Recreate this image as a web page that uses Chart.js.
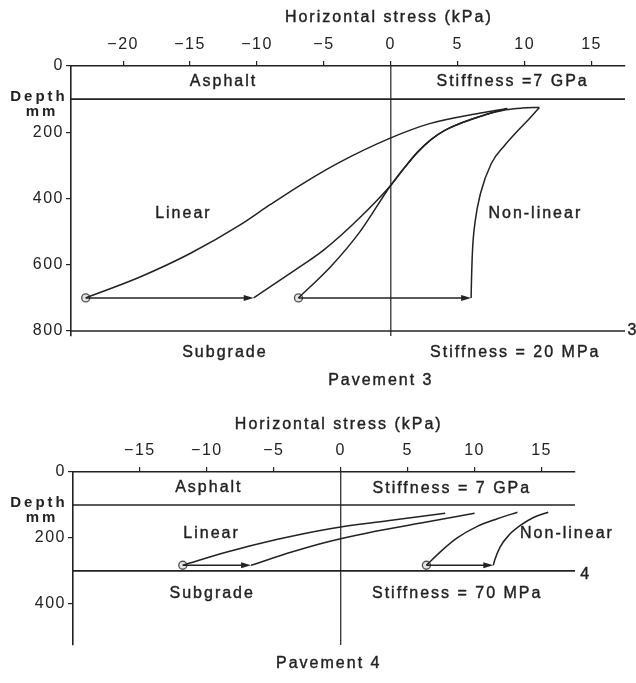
<!DOCTYPE html>
<html>
<head>
<meta charset="utf-8">
<script src="https://cdn.jsdelivr.net/npm/chart.js@4.4.0/dist/chart.umd.min.js"></script>
<style>
  body { margin:0; background:#fff; }
  #wrap { position:relative; width:636px; height:683px; }
  .box { position:absolute; left:0; width:636px; }
</style>
</head>
<body>
<div id="wrap">
  <div class="box" style="top:0;height:400px"><canvas id="c3"></canvas></div>
  <div class="box" style="top:400px;height:283px"><canvas id="c4"></canvas></div>
</div>
<script>
// ---- Pavement 3 (stress kPa / depth mm) ----
var p3LinA_x = [-22.8, -18.7, -15.0, -11.2, -9.0, -6.3, -3.8, 0, 2.9, 6.7, 8.7];
var p3LinA_d = [700, 636, 566, 478, 418, 348, 290, 217, 174, 142, 128];
var p3LinB_x = [-10.25, -7.5, -5.0, -2.5, 0, 1, 2, 3, 4, 5.4, 7, 8.7];
var p3LinB_d = [700, 625, 555, 465, 360, 308, 260, 222, 195, 170, 148, 128];
var p3NonA_x = [-6.9, -4.5, -2.3, 0, 1, 2, 3, 4, 5.4, 7, 8.6, 9.8, 11.1];
var p3NonA_d = [700, 606, 500, 360, 308, 260, 222, 195, 170, 148, 132, 127, 125];
var p3NonB_x = [6.0, 6.02, 6.1, 6.3, 6.7, 7.5, 8.5, 9.5, 10.4, 11.1];
var p3NonB_d = [700, 660, 560, 470, 385, 295, 240, 195, 157, 125];
var p3Circ_x = [-22.8, -6.9];
var p3Circ_d = [700, 700];
var p3ArrEnd_x = [-10.25, 6.0];
var p3Layers = [100, 800];
var p3XTicks = [-20, -15, -10, -5, 0, 5, 10, 15];
var p3YTicks = [0, 200, 400, 600, 800];

// ---- Pavement 4 ----
var p4LinA_x = [-11.8, -8.5, -4.8, -0.8, 3.5, 7.8];
var p4LinA_d = [283, 243, 205, 172, 148, 125];
var p4LinB_x = [-6.7, -3.6, -0.8, 2.0, 6.0, 10.0];
var p4LinB_d = [283, 242, 210, 185, 155, 125];
var p4NonA_x = [6.4, 7.5, 8.7, 10.2, 11.7, 13.2];
var p4NonA_d = [283, 240, 200, 165, 142, 122];
var p4NonB_x = [11.4, 11.5, 11.9, 12.6, 13.5, 14.4, 15.5];
var p4NonB_d = [283, 268, 228, 190, 160, 138, 122];
var p4Circ_x = [-11.8, 6.4];
var p4Circ_d = [283, 283];
var p4ArrEnd_x = [-6.7, 11.4];
var p4Layers = [100, 300];
var p4XTicks = [-15, -10, -5, 0, 5, 10, 15];
var p4YTicks = [0, 200, 400];

var INK = '#222';
var FONT = '"Liberation Sans", Arial, sans-serif';

function pts(xs, ds) {
  return xs.map(function (v, i) { return { x: v, y: ds[i] }; });
}

function curve(xs, ds) {
  return { data: pts(xs, ds), showLine: true, borderColor: INK, borderWidth: 1.5,
           pointRadius: 0, cubicInterpolationMode: 'monotone', fill: false };
}

function straight(xs, ds) {
  return { data: pts(xs, ds), showLine: true, borderColor: INK, borderWidth: 1.5,
           pointRadius: 0, tension: 0, fill: false };
}

var decor = {
  id: 'decor',
  beforeDraw: function (chart) { chart.ctx.letterSpacing = '1.5px'; },
  afterDatasetsDraw: function (chart, args, o) {
    var ctx = chart.ctx, a = chart.chartArea;
    var xs = chart.scales.x, ys = chart.scales.y;
    ctx.save();
    ctx.strokeStyle = INK;
    ctx.fillStyle = INK;
    // zero line
    ctx.lineWidth = 1.2;
    var zx = xs.getPixelForValue(0);
    ctx.beginPath(); ctx.moveTo(zx, a.top); ctx.lineTo(zx, a.bottom); ctx.stroke();
    // layer boundaries
    ctx.lineWidth = 1.6;
    o.layers.forEach(function (d) {
      var y = ys.getPixelForValue(d);
      ctx.beginPath(); ctx.moveTo(a.left, y); ctx.lineTo(a.right, y); ctx.stroke();
    });
    // arrow heads
    o.arrowEnds.forEach(function (v) {
      var x = xs.getPixelForValue(v), y = ys.getPixelForValue(o.arrowDepth);
      ctx.beginPath(); ctx.moveTo(x, y); ctx.lineTo(x - 10, y - 3); ctx.lineTo(x - 10, y + 3);
      ctx.closePath(); ctx.fill();
    });
    // texts
    ctx.letterSpacing = '2px';
    ctx.font = '16px ' + FONT;
    ctx.textAlign = 'center';
    ctx.textBaseline = 'middle';
    ctx.lineWidth = 0.4;
    function put(t, x, y) { ctx.fillText(t, x, y); ctx.strokeText(t, x, y); }
    o.texts.forEach(function (t) {
      put(t[0], xs.getPixelForValue(t[1]), ys.getPixelForValue(t[2]));
    });
    put('Horizontal stress (kPa)', zx - 2, o.titleY);
    put(o.caption, zx + o.captionDx, o.captionY);
    ctx.font = 'bold 15px ' + FONT;
    ctx.letterSpacing = '3px';
    ctx.fillText('Depth', 39, a.top + 31);
    ctx.fillText('mm', 42, a.top + 46);
    ctx.restore();
  }
};

function makeChart(id, c) {
  var lbl = function (v) { return v < 0 ? '\u2212' + (-v) : String(v); };
  return new Chart(document.getElementById(id), {
    type: 'scatter',
    data: {
      datasets: [
        curve(c.linA[0], c.linA[1]),
        curve(c.linB[0], c.linB[1]),
        curve(c.nonA[0], c.nonA[1]),
        curve(c.nonB[0], c.nonB[1]),
        straight([c.circ[0][0], c.arrEnd[0] - 0.4], [c.circ[1][0], c.circ[1][0]]),
        straight([c.circ[0][1], c.arrEnd[1] - 0.4], [c.circ[1][1], c.circ[1][1]]),
        { data: pts(c.circ[0], c.circ[1]), pointRadius: 4, pointStyle: 'circle',
          pointBorderColor: '#555', pointBackgroundColor: '#e4e4e4', pointBorderWidth: 1.4 }
      ]
    },
    options: {
      responsive: true, maintainAspectRatio: false, animation: false,
      layout: { padding: c.pad },
      plugins: {
        legend: { display: false }, tooltip: { enabled: false },
        decor: { layers: c.layers, arrowEnds: c.arrEnd, arrowDepth: c.circ[1][0],
                 texts: c.texts, titleY: c.titleY, caption: c.caption,
                 captionY: c.captionY, captionDx: c.captionDx }
      },
      scales: {
        x: {
          type: 'linear', position: 'top', min: c.xMin, max: c.xMax,
          afterFit: function (s) { s.height = c.axTop; },
          afterBuildTicks: function (s) { s.ticks = c.xTicks.map(function (v) { return { value: v }; }); },
          grid: { drawOnChartArea: false, drawTicks: true, tickLength: 5, color: INK, lineWidth: 1.2 },
          border: { display: true, color: INK, width: 1.6 },
          ticks: { color: INK, padding: 7, maxRotation: 0, autoSkip: false,
                   font: { family: FONT, size: 16 }, callback: lbl }
        },
        y: {
          type: 'linear', reverse: true, min: 0, max: c.yMax,
          afterFit: function (s) { s.width = c.axLeft; },
          afterBuildTicks: function (s) { s.ticks = c.yTicks.map(function (v) { return { value: v }; }); },
          grid: { drawOnChartArea: false, drawTicks: true, tickLength: 5, color: INK, lineWidth: 1.2 },
          border: { display: true, color: INK, width: 1.6 },
          ticks: { color: INK, padding: 2, autoSkip: false,
                   font: { family: FONT, size: 16 } }
        }
      }
    },
    plugins: [decor]
  });
}

makeChart('c3', {
  linA: [p3LinA_x, p3LinA_d], linB: [p3LinB_x, p3LinB_d],
  nonA: [p3NonA_x, p3NonA_d], nonB: [p3NonB_x, p3NonB_d],
  circ: [p3Circ_x, p3Circ_d], arrEnd: p3ArrEnd_x, layers: p3Layers,
  xTicks: p3XTicks, yTicks: p3YTicks,
  xMin: -23.9, xMax: 17.5, yMax: 815,
  axLeft: 71, axTop: 66, pad: { left: 0, top: 0, right: 11, bottom: 64 },
  titleY: 18, caption: 'Pavement 3', captionY: 381, captionDx: -10,
  texts: [['Asphalt', -12.5, 48], ['Stiffness =7 GPa', 9.1, 48],
          ['Linear', -15.5, 445], ['Non-linear', 10.8, 447],
          ['Subgrade', -12.4, 865], ['Stiffness = 20 MPa', 9.3, 865],
          ['3', 18.1, 800]]
});

makeChart('c4', {
  linA: [p4LinA_x, p4LinA_d], linB: [p4LinB_x, p4LinB_d],
  nonA: [p4NonA_x, p4NonA_d], nonB: [p4NonB_x, p4NonB_d],
  circ: [p4Circ_x, p4Circ_d], arrEnd: p4ArrEnd_x, layers: p4Layers,
  xTicks: p4XTicks, yTicks: p4YTicks,
  xMin: -20, xMax: 17.5, yMax: 525,
  axLeft: 73, axTop: 72, pad: { left: 0, top: 0, right: 61, bottom: 38 },
  titleY: 25, caption: 'Pavement 4', captionY: 264, captionDx: -12,
  texts: [['Asphalt', -9.85, 48], ['Stiffness = 7 GPa', 8.3, 50],
          ['Linear', -9.65, 188], ['Non-linear', 16.9, 188],
          ['Subgrade', -9.6, 368], ['Stiffness = 70 MPa', 8.7, 368],
          ['4', 18.3, 310]]
});
</script>
</body>
</html>
